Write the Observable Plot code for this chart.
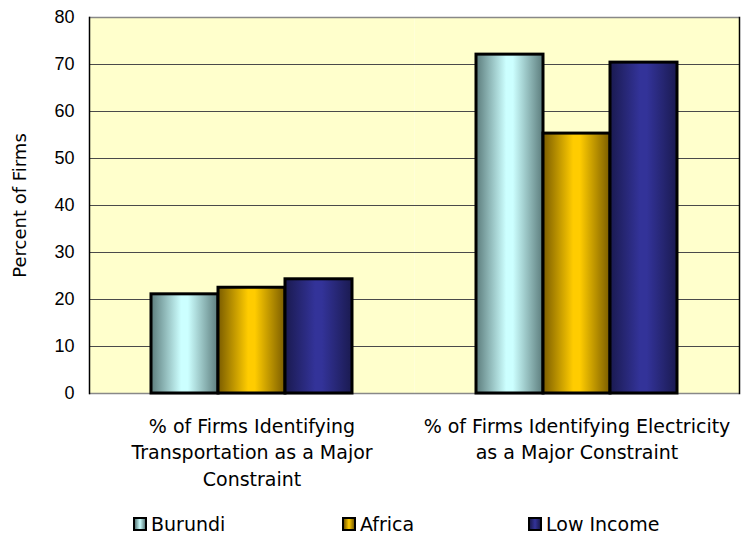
<!DOCTYPE html>
<html>
<head>
<meta charset="utf-8">
<script src="https://cdn.jsdelivr.net/npm/d3@7"></script>
<script src="https://cdn.jsdelivr.net/npm/@observablehq/plot@0.6"></script>
<style>
  html, body { margin: 0; padding: 0; background: #ffffff; }
  body { width: 751px; height: 537px; overflow: hidden; font-family: "DejaVu Sans", sans-serif; }
  #legend { position: relative; height: 32px; font-size: 19px; color: #000; }
  .item { position: absolute; top: 10px; display: flex; align-items: center; line-height: 22px; }
  .sw { width: 10px; height: 10px; border: 2px solid #000; margin-right: 4px; }
</style>
</head>
<body>
<div id="chart"></div>
<div id="legend"></div>
<script>
const categories = [
  "% of Firms Identifying\nTransportation as a Major\nConstraint",
  "% of Firms Identifying Electricity\nas a Major Constraint"
];
const series = ["Burundi", "Africa", "Low Income"];
const burundi = [21.1, 72.1];
const africa = [22.5, 55.3];
const lowIncome = [24.3, 70.4];
const yTicks = [0, 10, 20, 30, 40, 50, 60, 70, 80];

const gradients = {
  Burundi: ["#5c7c7c", "#ccffff"],
  Africa: ["#7a5c00", "#ffcc00"],
  "Low Income": ["#1a1a50", "#333399"]
};
const gradId = s => "grad-" + s.replace(/\s+/g, "");

const values = [burundi, africa, lowIncome];
const data = [];
categories.forEach((c, i) => {
  series.forEach((s, j) => data.push({category: c, series: s, value: values[j][i]}));
});

const numFont = "'Liberation Sans', Arial, sans-serif";
const textFont = "'DejaVu Sans', sans-serif";

const chart = Plot.plot({
  width: 751,
  height: 503,
  marginTop: 17,
  marginBottom: 110,
  marginLeft: 89,
  marginRight: 12,
  style: {fontFamily: textFont, fontSize: "18px", color: "#000", background: "#ffffff", overflow: "visible"},
  fx: {domain: categories, padding: 0, label: null},
  x: {domain: series, paddingInner: 0, paddingOuter: 0.9, axis: null},
  y: {domain: [0, 80], label: null},
  color: {domain: series, range: series.map(s => `url(#${gradId(s)})`)},
  marks: [
    Plot.frame({fill: "#ffffcc", stroke: null}),
    Plot.ruleY(yTicks.slice(1, -1), {stroke: "#4a4a4a", strokeWidth: 1}),
    Plot.ruleY([0, 80], {stroke: "#888", strokeWidth: 1.5}),
    Plot.barY(data, {fx: "category", x: "series", y: "value", fill: "series", stroke: "#000", strokeWidth: 3}),
    Plot.axisY(yTicks, {tickSize: 0, tickPadding: 15, fontSize: 18, fontFamily: numFont, label: null}),
    Plot.axisY({ticks: [], tickSize: 0, label: "Percent of Firms", labelAnchor: "center", labelArrow: "none", labelOffset: 76, fontSize: 18}),
    Plot.axisFx({anchor: "bottom", tickSize: 0, tickPadding: 21, fontSize: 19, lineHeight: 1.38, label: null}),
    Plot.frame({anchor: "left", stroke: "#000", strokeWidth: 1.5, facet: "super"}),
    Plot.frame({anchor: "right", stroke: "#000", strokeWidth: 1.5, facet: "super"})
  ]
});

// gradient definitions
const ns = "http://www.w3.org/2000/svg";
const defs = document.createElementNS(ns, "defs");
series.forEach(s => {
  const [edge, mid] = gradients[s];
  const g = document.createElementNS(ns, "linearGradient");
  g.setAttribute("id", gradId(s));
  g.setAttribute("x1", "0"); g.setAttribute("x2", "1");
  g.setAttribute("y1", "0"); g.setAttribute("y2", "0");
  [[0, edge], [0.45, mid], [0.55, mid], [1, edge]].forEach(([o, c]) => {
    const st = document.createElementNS(ns, "stop");
    st.setAttribute("offset", o);
    st.setAttribute("stop-color", c);
    g.appendChild(st);
  });
  defs.appendChild(g);
});
const svg = chart.tagName.toLowerCase() === "svg" ? chart : chart.querySelector("svg");
svg.insertBefore(defs, svg.firstChild);
document.getElementById("chart").appendChild(chart);

// legend
const legendLeft = {Burundi: 133, Africa: 342, "Low Income": 528};
const legend = document.getElementById("legend");
series.forEach(s => {
  const item = document.createElement("div");
  item.className = "item";
  item.style.left = legendLeft[s] + "px";
  const sw = document.createElement("div");
  sw.className = "sw";
  const [edge, mid] = gradients[s];
  sw.style.background = `linear-gradient(to right, ${edge}, ${mid} 50%, ${edge})`;
  const t = document.createElement("span");
  t.textContent = s;
  item.appendChild(sw);
  item.appendChild(t);
  legend.appendChild(item);
});
</script>
</body>
</html>
